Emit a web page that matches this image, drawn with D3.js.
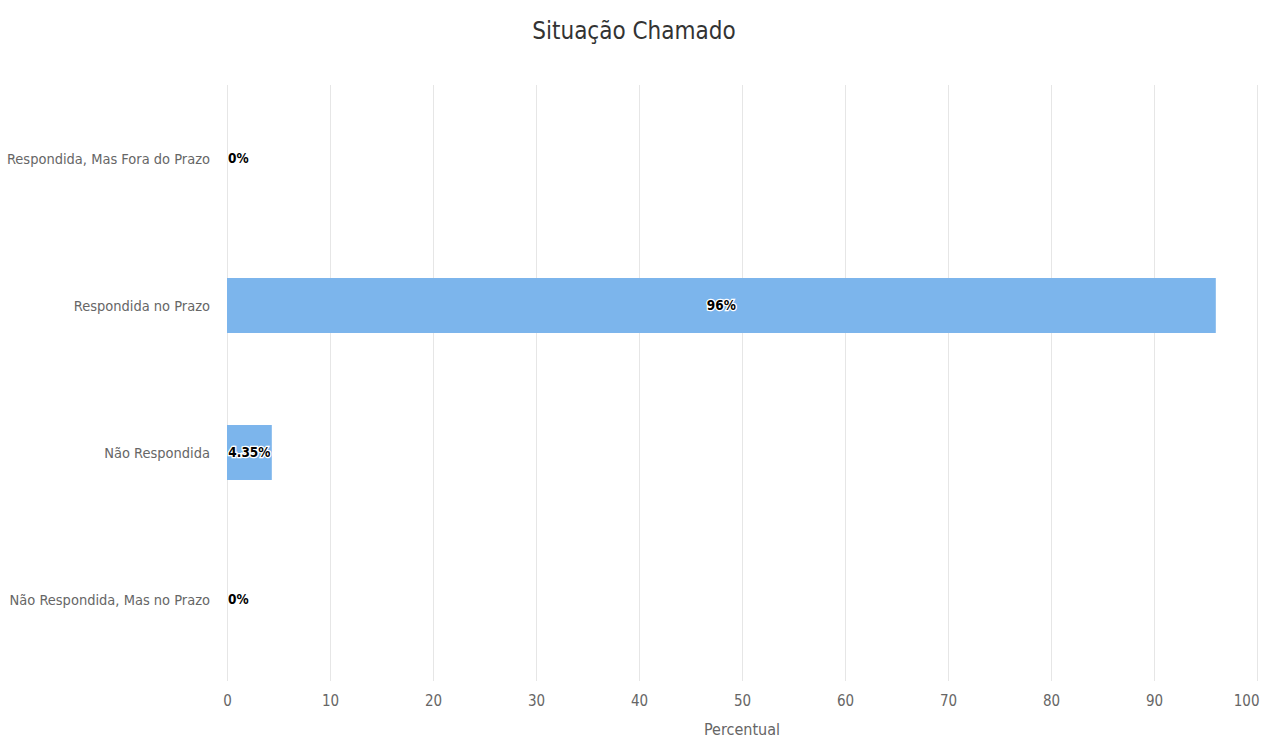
<!DOCTYPE html>
<html>
<head>
<meta charset="utf-8">
<script src="https://cdn.jsdelivr.net/npm/d3@7"></script>
<style>
  body { margin: 0; background: #fff; }
  svg, svg text { font-family: "DejaVu Sans Condensed", "Liberation Sans Narrow", "Liberation Sans", sans-serif; font-stretch: condensed; }
</style>
</head>
<body>
<div id="chart"></div>
<script>
// CHART DATA
const categories = ["Respondida, Mas Fora do Prazo", "Respondida no Prazo", "Não Respondida", "Não Respondida, Mas no Prazo"];
const values = [0, 96, 4.35, 0];
const valueLabels = ["0%", "96%", "4.35%", "0%"];
const xTicks = [0, 10, 20, 30, 40, 50, 60, 70, 80, 90, 100];

const width = 1262;
const height = 738;
const margin = { top: 85, right: 5, bottom: 65, left: 227 };

const svg = d3.select("#chart").append("svg")
    .attr("width", width)
    .attr("height", height);

const x = d3.scaleLinear()
    .domain([0, 100])
    .range([margin.left, width - margin.right]);

// one band per category, the bar takes part of it
const y = d3.scaleBand()
    .domain(categories)
    .range([margin.top, height - margin.bottom]);
const barH = y.step() * 0.374;

// TITLE
svg.append("text")
    .attr("x", 634)
    .attr("y", 39)
    .attr("text-anchor", "middle")
    .attr("fill", "#333")
    .style("font-size", "24px")
    .text("Situação Chamado");

// GRIDLINES
svg.append("g")
    .selectAll("line")
    .data(xTicks)
    .join("line")
    .attr("x1", d => x(d) + 0.5)
    .attr("x2", d => x(d) + 0.5)
    .attr("y1", margin.top)
    .attr("y2", height - margin.bottom + 8)
    .attr("stroke", "#e6e6e6");

// X AXIS LABELS
const xAxis = svg.append("g")
    .attr("transform", `translate(0,${height - margin.bottom})`)
    .call(d3.axisBottom(x).tickValues(xTicks).tickSize(0).tickPadding(22))
    .attr("font-family", null)
    .attr("font-size", null);
xAxis.select(".domain").remove();
xAxis.selectAll("text")
    .attr("fill", "#666")
    .style("font-size", "15px")
    .attr("dx", function (d) {
        // keep the last label inside the picture
        const w = this.getComputedTextLength();
        const over = x(d) + w / 2 - (width - 3);
        return over > 0 ? -over : 0;
    });

svg.append("text")
    .attr("x", (x(0) + x(100)) / 2)
    .attr("y", 735)
    .attr("text-anchor", "middle")
    .attr("fill", "#666")
    .style("font-size", "16px")
    .text("Percentual");

// CATEGORY LABELS
svg.append("g")
    .selectAll("text")
    .data(categories)
    .join("text")
    .attr("x", margin.left - 17)
    .attr("y", d => y(d) + y.bandwidth() / 2)
    .attr("dy", "0.35em")
    .attr("text-anchor", "end")
    .attr("fill", "#666")
    .style("font-size", "14.5px")
    .text(d => d);

// BARS
svg.append("g")
    .selectAll("rect")
    .data(values)
    .join("rect")
    .attr("x", x(0))
    .attr("y", (_, i) => y(categories[i]) + (y.bandwidth() - barH) / 2)
    .attr("width", d => x(d) - x(0))
    .attr("height", barH)
    .attr("fill", "#7cb5ec");

// DATA LABELS (centred in bar, pushed right when the bar is too short)
const labels = svg.append("g")
    .selectAll("text")
    .data(values)
    .join("text")
    .attr("y", (_, i) => y(categories[i]) + y.bandwidth() / 2)
    .attr("dy", "0.35em")
    .attr("text-anchor", "middle")
    .attr("fill", "#000")
    .attr("stroke", "#fff")
    .attr("stroke-width", 2.5)
    .attr("paint-order", "stroke")
    .style("font-size", "13.5px")
    .style("font-weight", "bold")
    .text((_, i) => valueLabels[i]);

labels.attr("x", function (d) {
    const w = this.getComputedTextLength();
    const centre = (x(0) + x(d)) / 2;
    return Math.max(centre, x(0) + w / 2 + 1);
});
</script>
</body>
</html>
